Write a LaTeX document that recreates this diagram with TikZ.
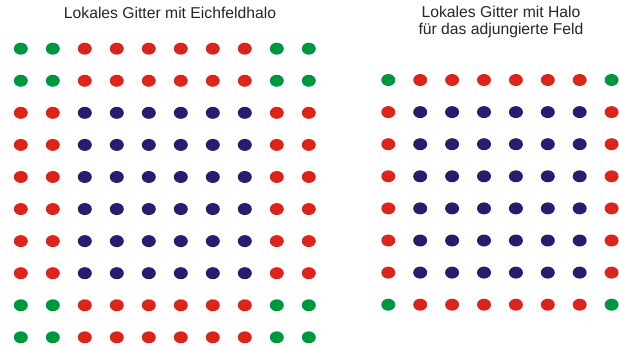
\documentclass[tikz,border=0pt]{standalone}
\usepackage{fontspec}
\setmainfont{Liberation Sans}
\usetikzlibrary{shapes.geometric}

\definecolor{haloRot}{HTML}{DA251D}
\definecolor{eckGruen}{HTML}{009640}
\definecolor{innenBlau}{HTML}{2B1A6E}

\begin{document}
\begin{tikzpicture}[
                x=1pt, y=-1pt,
                gitterpunkt/.style={
                    ellipse,
                    draw=none,
                    inner sep=0pt,
                    minimum width=14pt,
                    minimum height=12pt
                },
                titel/.style={
                    align=center,
                    font=\fontsize{15.7}{17}\selectfont,
                    text=black!85
                }
            ]
                \useasboundingbox (0,0) rectangle (619,349);

                \node[titel] (titelL) at (170,12.5) {Lokales Gitter mit Eichfeldhalo};
                \node[titel] (titelR) at (501,21.5) {Lokales Gitter mit Halo\\für das adjungierte Feld};

                % linkes Gitter: 10x10, Halo zwei Punkte breit
                \foreach \r in {1,...,10} {
                    \foreach \c in {1,...,10} {
                        \pgfmathtruncatemacro\randR{(\r<3)||(\r>8)}
                        \pgfmathtruncatemacro\randC{(\c<3)||(\c>8)}
                        \pgfmathtruncatemacro\art{\randR+\randC}
                        \ifcase\art \def\farbe{innenBlau}\or \def\farbe{haloRot}\else \def\farbe{eckGruen}\fi
                        \node[gitterpunkt, fill=\farbe] (links-\r-\c) at ({20.8+32*(\c-1)},{48.7+32.07*(\r-1)}) {};
                    }
                }

                % rechtes Gitter: 8x8, Halo ein Punkt breit
                \foreach \r in {1,...,8} {
                    \foreach \c in {1,...,8} {
                        \pgfmathtruncatemacro\randR{(\r==1)||(\r==8)}
                        \pgfmathtruncatemacro\randC{(\c==1)||(\c==8)}
                        \pgfmathtruncatemacro\art{\randR+\randC}
                        \ifcase\art \def\farbe{innenBlau}\or \def\farbe{haloRot}\else \def\farbe{eckGruen}\fi
                        \node[gitterpunkt, fill=\farbe] (rechts-\r-\c) at ({388.3+31.9*(\c-1)},{80+32.1*(\r-1)}) {};
                    }
                }
        \end{tikzpicture}
\end{document}
